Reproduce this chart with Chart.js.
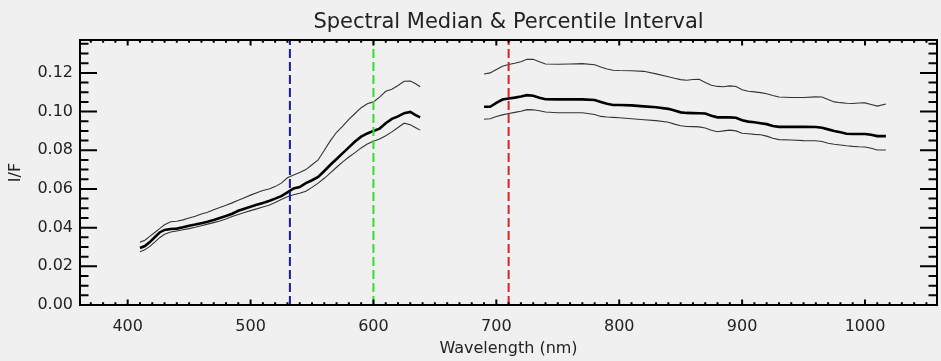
<!DOCTYPE html>
<html>
<head>
<meta charset="utf-8">
<script src="https://cdn.jsdelivr.net/npm/chart.js@4.4.1/dist/chart.umd.min.js"></script>
<style>
  html, body { margin: 0; padding: 0; background: #f0f0f0; }
  #wrap { width: 941px; height: 361px; }
</style>
</head>
<body>
<div id="wrap"><canvas id="c" width="941" height="361"></canvas></div>
<script>
// ---- Data ----
const titleText = "Spectral Median & Percentile Interval";
const xTitle = "Wavelength (nm)";
const yTitle = "I/F";

// wavelengths (nm); null entry at 664 breaks the line (gap in the spectrum)
const wavelengths = [
  410, 414, 418, 422, 426, 430, 435, 440, 445, 450, 455, 460, 465, 470, 475, 480, 485, 490, 495, 500,
  505, 510, 515, 520, 525, 530, 535, 540, 545, 550, 555, 560, 565, 570, 575, 580, 585, 590, 595, 600,
  605, 610, 615, 620, 625, 630, 634, 638,
  664,
  690, 695, 700, 705, 710, 715, 720, 725, 730, 735, 740, 750, 760, 770, 780, 785, 790, 795, 800, 810,
  820, 830, 840, 845, 850, 855, 860, 865, 870, 875, 880, 885, 890, 895, 900, 905, 910, 915, 920, 925,
  930, 940, 950, 960, 965, 970, 975, 980, 985, 990, 995, 1000, 1005, 1010, 1017
];

const medianIF = [
  0.0295, 0.0305, 0.0325, 0.0350, 0.0375, 0.0388, 0.0393, 0.0395, 0.0402, 0.0410, 0.0416, 0.0423, 0.0430, 0.0439, 0.0450, 0.0460, 0.0472, 0.0487, 0.0498, 0.0508,
  0.0518, 0.0527, 0.0538, 0.0550, 0.0563, 0.0582, 0.0603, 0.0610, 0.0630, 0.0645, 0.0662, 0.0693, 0.0725, 0.0755, 0.0785, 0.0815, 0.0845, 0.0870, 0.0887, 0.0900,
  0.0912, 0.0940, 0.0962, 0.0975, 0.0992, 0.0998, 0.0983, 0.0970,
  null,
  0.1025, 0.1025, 0.1045, 0.1062, 0.1068, 0.1072, 0.1078, 0.1085, 0.1082, 0.1072, 0.1064, 0.1063, 0.1063, 0.1063, 0.1060, 0.1050, 0.1040, 0.1034, 0.1034, 0.1032,
  0.1027, 0.1022, 0.1014, 0.1005, 0.0996, 0.0993, 0.0992, 0.0991, 0.0990, 0.0978, 0.0970, 0.0970, 0.0970, 0.0968, 0.0955, 0.0948, 0.0945, 0.0940, 0.0935, 0.0925,
  0.0921, 0.0921, 0.0921, 0.0920, 0.0916, 0.0908, 0.0900, 0.0893, 0.0885, 0.0884, 0.0884, 0.0884, 0.0880, 0.0873, 0.0873
];

const upperIF = [
  0.0325, 0.0335, 0.0355, 0.0375, 0.0395, 0.0415, 0.0430, 0.0433, 0.0440, 0.0450, 0.0459, 0.0470, 0.0480, 0.0492, 0.0504, 0.0516, 0.0528, 0.0542, 0.0555, 0.0568,
  0.0580, 0.0592, 0.0600, 0.0612, 0.0630, 0.0658, 0.0672, 0.0685, 0.0700, 0.0725, 0.0750, 0.0800, 0.0850, 0.0893, 0.0925, 0.0960, 0.0990, 0.1020, 0.1040, 0.1050,
  0.1075, 0.1105, 0.1115, 0.1135, 0.1157, 0.1158, 0.1145, 0.1128,
  null,
  0.1194, 0.1200, 0.1218, 0.1234, 0.1243, 0.1250, 0.1258, 0.1270, 0.1270, 0.1258, 0.1246, 0.1245, 0.1246, 0.1248, 0.1242, 0.1230, 0.1220, 0.1214, 0.1212, 0.1211,
  0.1208, 0.1195, 0.1180, 0.1172, 0.1165, 0.1162, 0.1166, 0.1167, 0.1150, 0.1136, 0.1130, 0.1128, 0.1133, 0.1130, 0.1113, 0.1105, 0.1102, 0.1098, 0.1092, 0.1083,
  0.1075, 0.1073, 0.1073, 0.1076, 0.1075, 0.1062, 0.1050, 0.1046, 0.1043, 0.1042, 0.1044, 0.1045, 0.1037, 0.1028, 0.1039
];

const lowerIF = [
  0.0275, 0.0285, 0.0303, 0.0325, 0.0348, 0.0366, 0.0377, 0.0383, 0.0389, 0.0395, 0.0402, 0.0410, 0.0418, 0.0426, 0.0434, 0.0445, 0.0457, 0.0468, 0.0478, 0.0488,
  0.0497, 0.0507, 0.0516, 0.0530, 0.0545, 0.0560, 0.0570, 0.0578, 0.0588, 0.0608, 0.0630, 0.0655, 0.0683, 0.0712, 0.0740, 0.0765, 0.0788, 0.0812, 0.0832, 0.0847,
  0.0858, 0.0875, 0.0895, 0.0918, 0.0940, 0.0932, 0.0918, 0.0904,
  null,
  0.0960, 0.0963, 0.0975, 0.0983, 0.0990, 0.0996, 0.1002, 0.1010, 0.1009, 0.1004, 0.0998, 0.0994, 0.0994, 0.0994, 0.0985, 0.0975, 0.0972, 0.0970, 0.0968, 0.0963,
  0.0958, 0.0953, 0.0945, 0.0935, 0.0927, 0.0923, 0.0922, 0.0921, 0.0915, 0.0903, 0.0896, 0.0900, 0.0904, 0.0900, 0.0888, 0.0885, 0.0882, 0.0880, 0.0873, 0.0862,
  0.0855, 0.0853, 0.0850, 0.0849, 0.0845, 0.0836, 0.0831, 0.0827, 0.0823, 0.0820, 0.0818, 0.0817, 0.0810, 0.0801, 0.0801
];

// vertical dashed marker wavelengths and their colours
const markerWavelengths = [532, 600, 710];
const markerColors = ["#1a1a9c", "#33dd33", "#dd2222"];

// axis ticks and ranges
const xTicks = [400, 500, 600, 700, 800, 900, 1000];
const yTicks = [0.00, 0.02, 0.04, 0.06, 0.08, 0.10, 0.12];
const xMin = 361.2, xMax = 1058.6;
const yMin = 0, yMax = 0.137;
const xMinorStep = 10, xMajorStep = 100;
const yMinorStep = 0.005, yMajorStep = 0.02;

// ---- Build datasets ----
const pts = (ys) => wavelengths.map((w, i) => ({ x: w, y: ys[i] }));

const markerSets = markerWavelengths.map((w, i) => ({
  data: [{ x: w, y: yMin }, { x: w, y: yMax }],
  borderColor: markerColors[i],
  borderWidth: 2,
  borderDash: [9, 4],
  pointRadius: 0,
  fill: false
}));

const curveSets = [
  { data: pts(medianIF), borderColor: "#000", borderWidth: 2.6 },
  { data: pts(upperIF), borderColor: "#333", borderWidth: 1.1 },
  { data: pts(lowerIF), borderColor: "#333", borderWidth: 1.1 }
].map(d => Object.assign(d, { pointRadius: 0, fill: false, spanGaps: false, tension: 0 }));

const FONT = "'DejaVu Sans', sans-serif";
const TXT = "#222";

// frame + IDL-style inward ticks, positioned through the chart's own scales
const frameTicks = {
  id: "frameTicks",
  afterDraw(chart) {
    const { ctx, chartArea: a, scales: { x, y } } = chart;
    ctx.save();
    ctx.strokeStyle = "#000";
    ctx.lineWidth = 2;
    ctx.strokeRect(a.left, a.top, a.right - a.left, a.bottom - a.top);
    ctx.beginPath();
    const xs = Math.ceil(x.min / xMinorStep);
    for (let k = xs; k * xMinorStep <= x.max; k++) {
      const v = k * xMinorStep;
      const px = x.getPixelForValue(v);
      const major = Math.abs(v / xMajorStep - Math.round(v / xMajorStep)) < 1e-6;
      const len = major ? 5.5 : 2.8;
      ctx.moveTo(px, a.bottom); ctx.lineTo(px, a.bottom - len);
      ctx.moveTo(px, a.top); ctx.lineTo(px, a.top + len);
    }
    for (let k = 0; k * yMinorStep <= y.max + 1e-9; k++) {
      const v = k * yMinorStep;
      const py = y.getPixelForValue(v);
      const major = Math.abs(v / yMajorStep - Math.round(v / yMajorStep)) < 1e-6;
      const len = major ? 17 : 8.5;
      ctx.moveTo(a.left, py); ctx.lineTo(a.left + len, py);
      ctx.moveTo(a.right, py); ctx.lineTo(a.right - len, py);
    }
    ctx.stroke();
    ctx.restore();
  }
};

const bg = {
  id: "bg",
  beforeDraw(chart) {
    const { ctx, width, height } = chart;
    ctx.save();
    ctx.fillStyle = "#f0f0f0";
    ctx.fillRect(0, 0, width, height);
    ctx.restore();
  }
};

new Chart(document.getElementById("c"), {
  type: "line",
  data: { datasets: [...markerSets, ...curveSets] },
  options: {
    responsive: false,
    animation: false,
    events: [],
    layout: { padding: { left: 0, right: 4, top: 0, bottom: 0 } },
    plugins: {
      legend: { display: false },
      tooltip: { enabled: false },
      title: {
        display: true,
        text: titleText,
        fullSize: false,
        color: TXT,
        font: { family: FONT, size: 21, weight: "normal" },
        padding: { top: 10, bottom: 4.8 }
      }
    },
    scales: {
      x: {
        type: "linear",
        min: xMin, max: xMax,
        grid: { display: false, drawTicks: false },
        border: { display: false },
        afterBuildTicks: (s) => { s.ticks = xTicks.map(v => ({ value: v })); },
        afterFit: (s) => { s.height = 56; },
        ticks: {
          color: TXT, padding: 12, maxRotation: 0,
          font: { family: FONT, size: 16 },
          callback: (v) => String(v)
        },
        title: {
          display: true, text: xTitle, color: TXT,
          font: { family: FONT, size: 16 },
          padding: { top: 0, bottom: 3 }
        }
      },
      y: {
        type: "linear",
        min: yMin, max: yMax,
        grid: { display: false, drawTicks: false },
        border: { display: false },
        afterBuildTicks: (s) => { s.ticks = yTicks.map(v => ({ value: v })); },
        afterFit: (s) => { s.width = 80; },
        ticks: {
          color: TXT, padding: 7,
          font: { family: FONT, size: 16 },
          callback: (v) => Number(v).toFixed(2)
        },
        title: {
          display: true, text: yTitle, color: TXT,
          font: { family: FONT, size: 16 },
          padding: { top: 6, bottom: 0 }
        }
      }
    }
  },
  plugins: [bg, frameTicks]
});
</script>
</body>
</html>
